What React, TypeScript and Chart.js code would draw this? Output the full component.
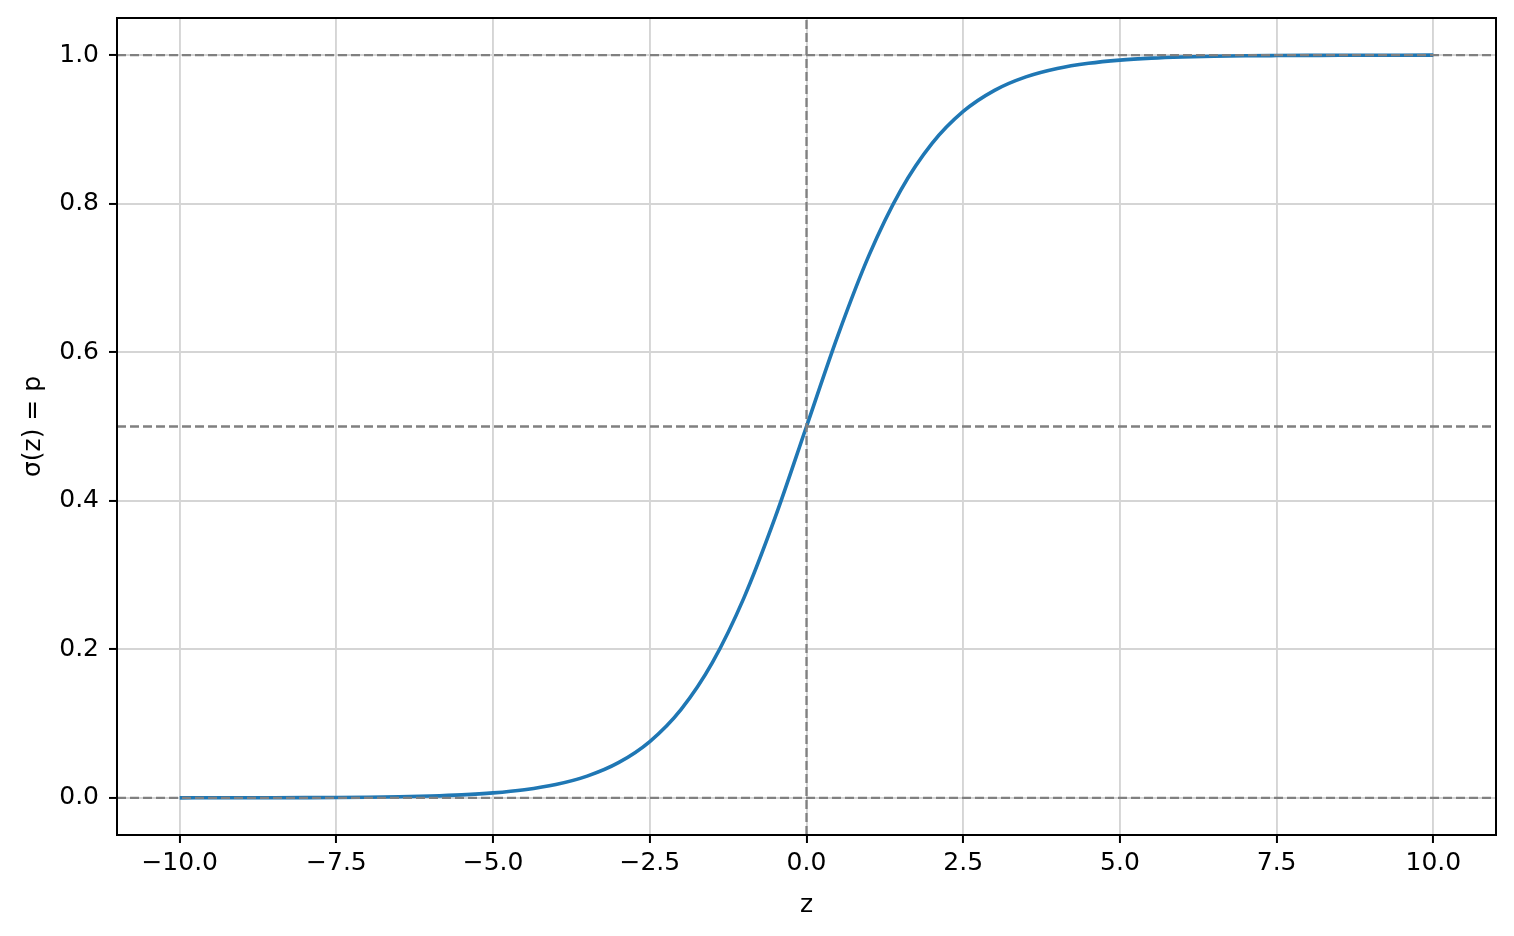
import React, { useEffect, useRef } from "react";
import { Chart, registerables } from "chart.js";

Chart.register(...registerables);

// ---- data ----
const zValues = [
  -10, -9.5, -9, -8.5, -8, -7.5, -7, -6.5, -6, -5.5, -5, -4.5, -4, -3.5, -3, -2.5, -2, -1.5, -1, -0.5,
  0, 0.5, 1, 1.5, 2, 2.5, 3, 3.5, 4, 4.5, 5, 5.5, 6, 6.5, 7, 7.5, 8, 8.5, 9, 9.5, 10,
];
const sigmaValues = [
  0.0000454, 0.0000749, 0.0001234, 0.0002035, 0.0003354, 0.0005531, 0.0009111, 0.0015011, 0.0024726,
  0.0040701, 0.0066929, 0.0109869, 0.0179862, 0.0293122, 0.0474259, 0.0758582, 0.1192029, 0.1824255,
  0.2689414, 0.3775407, 0.5, 0.6224593, 0.7310586, 0.8175745, 0.8807971, 0.9241418, 0.9525741,
  0.9706878, 0.9820138, 0.9890131, 0.9933071, 0.9959299, 0.9975274, 0.9984989, 0.9990889, 0.9994469,
  0.9996646, 0.9997965, 0.9998766, 0.9999251, 0.9999546,
];
const horizontalRefs = [0, 0.5, 1];
const verticalRefs = [0];
const xTicks = [-10, -7.5, -5, -2.5, 0, 2.5, 5, 7.5, 10];
const yTicks = [0, 0.2, 0.4, 0.6, 0.8, 1.0];
const xRange = [-11, 11];
const yRange = [-0.05, 1.05];
const xTitle = "z";
const yTitle = "σ(z) = p";

const FONT = "'DejaVu Sans', sans-serif";
const FS = 25;

const fmt = (v: number) => (v < 0 ? "\u2212" + Math.abs(v).toFixed(1) : v.toFixed(1));

const framePlugin = {
  id: "frame",
  afterDatasetsDraw(chart: any) {
    const { ctx, chartArea } = chart;
    ctx.save();
    ctx.strokeStyle = "#000";
    ctx.lineWidth = 2;
    ctx.strokeRect(chartArea.left, chartArea.top, chartArea.right - chartArea.left, chartArea.bottom - chartArea.top);
    ctx.restore();
  },
};

export default function App() {
  const ref = useRef<HTMLCanvasElement>(null);

  useEffect(() => {
    if (!ref.current) return;
    const refStyle = {
      borderColor: "#808080",
      borderWidth: 2.3,
      borderDash: [9, 4],
      pointRadius: 0,
      fill: false,
      tension: 0,
      order: 0,
    };
    const datasets: any[] = [
      ...horizontalRefs.map((y) => ({
        ...refStyle,
        data: [
          { x: xRange[0], y },
          { x: xRange[1], y },
        ],
      })),
      ...verticalRefs.map((x) => ({
        ...refStyle,
        data: [
          { x, y: yRange[0] },
          { x, y: yRange[1] },
        ],
      })),
      {
        data: zValues.map((x, i) => ({ x, y: sigmaValues[i] })),
        borderColor: "#1f77b4",
        borderWidth: 3.6,
        pointRadius: 0,
        fill: false,
        cubicInterpolationMode: "monotone",
        order: 1,
      },
    ];
    const chart = new Chart(ref.current, {
      type: "line",
      data: { datasets },
      options: {
        animation: false,
        responsive: false,
        maintainAspectRatio: false,
        layout: { padding: { top: 18, right: 18, left: 0, bottom: 0 } },
        plugins: { legend: { display: false }, tooltip: { enabled: false } },
        scales: {
          x: {
            type: "linear",
            min: xRange[0],
            max: xRange[1],
            afterBuildTicks: (s: any) => {
              s.ticks = xTicks.map((value) => ({ value }));
            },
            afterFit: (s: any) => {
              s.height = 101;
              s.paddingLeft = 0;
              s.paddingRight = 0;
            },
            border: { display: false },
            grid: {
              color: "#d5d5d5",
              lineWidth: 1.9,
              tickColor: "#000",
              tickWidth: 2,
              tickLength: 8,
              drawTicks: true,
            },
            ticks: {
              color: "#000",
              font: { family: FONT, size: FS },
              padding: 5,
              maxRotation: 0,
              autoSkip: false,
              callback: (v: any) => fmt(Number(v)),
            },
            title: {
              display: true,
              text: xTitle,
              color: "#000",
              font: { family: FONT, size: FS },
              padding: { top: 0, bottom: 16 },
            },
          },
          y: {
            type: "linear",
            min: yRange[0],
            max: yRange[1],
            afterBuildTicks: (s: any) => {
              s.ticks = yTicks.map((value) => ({ value }));
            },
            afterFit: (s: any) => {
              s.width = 117;
              s.paddingTop = 0;
              s.paddingBottom = 0;
            },
            border: { display: false },
            grid: {
              color: "#d5d5d5",
              lineWidth: 1.9,
              tickColor: "#000",
              tickWidth: 2,
              tickLength: 8,
              drawTicks: true,
            },
            ticks: {
              color: "#000",
              font: { family: FONT, size: FS },
              padding: 10,
              autoSkip: false,
              callback: (v: any) => fmt(Number(v)),
            },
            title: {
              display: true,
              text: yTitle,
              color: "#000",
              font: { family: FONT, size: FS },
              padding: { top: 18, bottom: 0 },
            },
          },
        },
      },
      plugins: [framePlugin],
    } as any);
    return () => chart.destroy();
  }, []);

  return (
    <div style={{ position: "absolute", left: 0, top: 0, width: 1514, height: 936, background: "#fff" }}>
      <canvas ref={ref} width={1514} height={936} style={{ display: "block", width: 1514, height: 936 }} />
    </div>
  );
}
